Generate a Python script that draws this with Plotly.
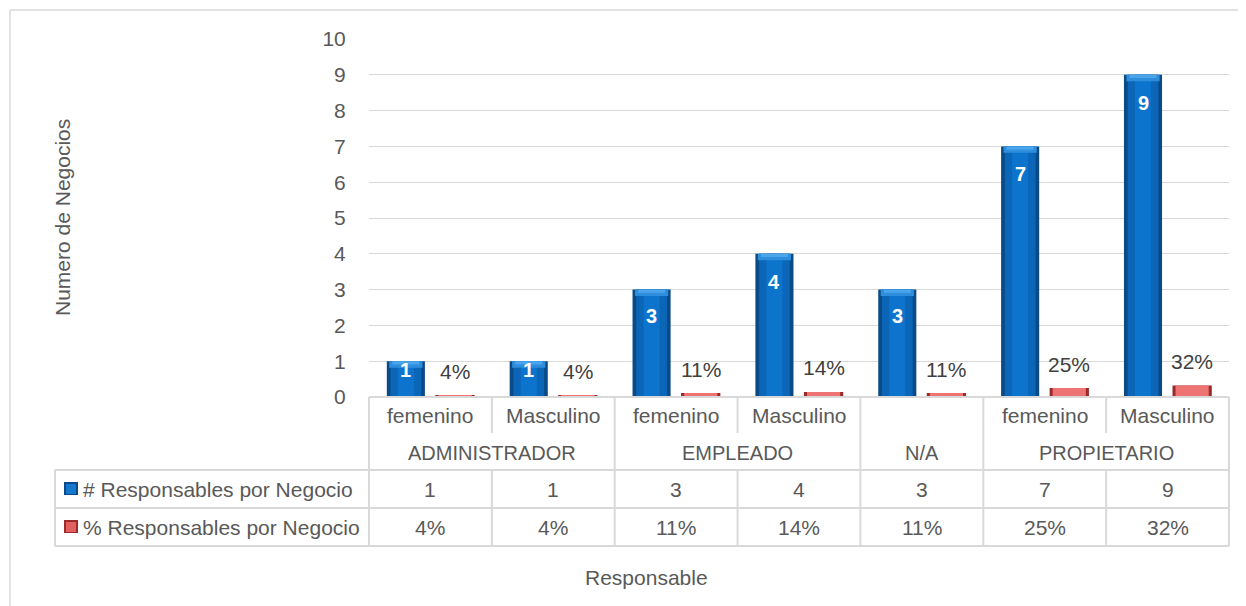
import plotly.graph_objects as go

# ---- data ----
subcategorias = ["femenino", "Masculino", "femenino", "Masculino", "", "femenino", "Masculino"]
grupos = ["ADMINISTRADOR", "EMPLEADO", "N/A", "PROPIETARIO"]
grupo_span = [2, 2, 1, 2]  # number of sub-categories in each group
num_responsables = [1, 1, 3, 4, 3, 7, 9]
pct_responsables = [0.04, 0.04, 0.11, 0.14, 0.11, 0.25, 0.32]
serie_nombres = ["# Responsables por Negocio", "% Responsables por Negocio"]
y_ticks = list(range(0, 11))

# page offset (browser body margin)
OFF = 8
W, H = 1246, 606
L, R, T, B = 369, 17, 39, 209
PW, PH = W - L - R, H - T - B
N = len(num_responsables)

FONT = "Liberation Sans"
TXT = "#595959"
GRID = "#d9d9d9"
FS = 21


def px_x(X):
    return (X - L) / PW


def px_y(Y):
    return (H - B - Y) / PH


xi = list(range(N))
xb = [i - 0.2 for i in xi]
xr = [i + 0.2 for i in xi]

fig = go.Figure()

# blue bars: layered to mimic the cylindrical shading
for w, col in [(0.31, "#0A4A86"), (0.25, "#0B66B8"), (0.13, "#0C74CC")]:
    fig.add_trace(go.Bar(x=xb, y=num_responsables, width=w, marker=dict(color=col, line=dict(width=0)),
                         hoverinfo="skip", showlegend=False))
cap = 0.18
fig.add_trace(go.Bar(x=xb, y=[cap] * N, base=[v - cap for v in num_responsables], width=0.27,
                     marker=dict(color="#2F8EDC", line=dict(width=0)), hoverinfo="skip", showlegend=False))
fig.add_trace(go.Bar(x=xb, y=[cap / 2] * N, base=[v - cap / 2 for v in num_responsables], width=0.22,
                     marker=dict(color="#4AA5EC", line=dict(width=0)), hoverinfo="skip", showlegend=False))

# red bars
for w, col in [(0.32, "#9C2A2A"), (0.27, "#EE7474")]:
    fig.add_trace(go.Bar(x=xr, y=pct_responsables, width=w, marker=dict(color=col, line=dict(width=0)),
                         hoverinfo="skip", showlegend=False))

annotations = []
shapes = []

# blue data labels (inside end)
for x, v in zip(xb, num_responsables):
    annotations.append(dict(x=x, y=max(v - 0.78, 0.75 * v), xref="x", yref="y", text=f"<b>{v}</b>",
                            showarrow=False, font=dict(family=FONT, size=20, color="white"),
                            xanchor="center", yanchor="middle"))
# red data labels (above)
for x, v in zip(xr, pct_responsables):
    annotations.append(dict(x=x, y=v, xref="x", yref="y", text=f"{round(v * 100)}%",
                            showarrow=False, font=dict(family=FONT, size=FS, color="#404040"),
                            xanchor="center", yanchor="middle", yshift=24))

# ---- data table ----
row_sub, row_grp, row_n, row_p, row_end = 397, 433, 470, 508, 546
left_col = 55
line = dict(color=GRID, width=2)


def hline(Y, X0, X1):
    shapes.append(dict(type="line", xref="paper", yref="paper", x0=px_x(X0), x1=px_x(X1),
                       y0=px_y(Y), y1=px_y(Y), line=line, layer="above"))


def vline_p(xp, Y0, Y1):
    shapes.append(dict(type="line", xref="paper", yref="paper", x0=xp, x1=xp,
                       y0=px_y(Y0), y1=px_y(Y1), line=line, layer="above"))


hline(row_sub, L, L + PW)
hline(row_n, left_col, L + PW)
hline(row_p, left_col, L + PW)
hline(row_end, left_col, L + PW)
vline_p(px_x(left_col), row_n, row_end)
vline_p(0, row_sub, row_end)
group_edges = set()
acc = 0
for s in grupo_span:
    acc += s
    group_edges.add(acc)
for k in range(1, N + 1):
    vline_p(k / N, row_sub if k in group_edges else row_n, row_end)
    if k not in group_edges:
        vline_p(k / N, row_sub, row_grp)

cell_font = dict(family=FONT, size=FS, color=TXT)
grp_font = dict(family=FONT, size=20, color=TXT)


def cell(x, yc, text, font=cell_font, xref="x"):
    annotations.append(dict(x=x, y=px_y(yc), xref=xref, yref="paper", text=text, showarrow=False,
                            font=font, xanchor="center", yanchor="middle"))


for i, s in enumerate(subcategorias):
    if s:
        cell(i, (row_sub + row_grp) / 2, s)
acc = 0
for g, s in zip(grupos, grupo_span):
    cell(acc + (s - 1) / 2, (row_grp + row_n) / 2 + 1, g, grp_font)
    acc += s
for i in xi:
    cell(i, (row_n + row_p) / 2, str(num_responsables[i]))
    cell(i, (row_p + row_end) / 2, f"{round(pct_responsables[i] * 100)}%")

# row headers with legend keys
for name, yc, (edge, inner) in zip(serie_nombres, [(row_n + row_p) / 2, (row_p + row_end) / 2],
                                   [("#0A4A86", "#1478CF"), ("#9C2A2A", "#E06060")]):
    shapes.append(dict(type="rect", xref="paper", yref="paper", x0=px_x(64), x1=px_x(78),
                       y0=px_y(yc + 6), y1=px_y(yc - 7), fillcolor=edge, line=dict(width=0)))
    shapes.append(dict(type="rect", xref="paper", yref="paper", x0=px_x(66), x1=px_x(76),
                       y0=px_y(yc + 5), y1=px_y(yc - 5), fillcolor=inner, line=dict(width=0)))
    annotations.append(dict(x=px_x(81), y=px_y(yc), xref="paper", yref="paper", text=name,
                            showarrow=False, font=cell_font, xanchor="left", yanchor="middle"))

# axis titles
annotations.append(dict(x=px_x(62), y=px_y(218), xref="paper", yref="paper", text="Numero de Negocios",
                        textangle=-90, showarrow=False, font=cell_font, xanchor="center", yanchor="middle"))
cell(px_x(646), 577, "Responsable", xref="paper")

# outer chart border (left and top)
shapes.append(dict(type="line", xref="paper", yref="paper", x0=px_x(10), x1=px_x(W + 5),
                   y0=px_y(10), y1=px_y(10), line=dict(color=GRID, width=1.5)))
shapes.append(dict(type="line", xref="paper", yref="paper", x0=px_x(10), x1=px_x(10),
                   y0=px_y(10), y1=px_y(H + 5), line=dict(color=GRID, width=1.5)))

fig.update_layout(
    width=W - OFF, height=H - OFF, autosize=False,
    margin=dict(l=L - OFF, r=R, t=T - OFF, b=B, pad=0),
    paper_bgcolor="white", plot_bgcolor="white",
    barmode="overlay",
    xaxis=dict(range=[-0.5, N - 0.5], showticklabels=False, showgrid=False, zeroline=False,
               showline=False, fixedrange=True),
    yaxis=dict(range=[0, 10], tickvals=y_ticks, showgrid=True, gridcolor=GRID, gridwidth=1,
               zeroline=False, showline=False, ticks="outside", ticklen=18, tickcolor="rgba(0,0,0,0)",
               tickfont=dict(family=FONT, size=FS, color=TXT), fixedrange=True),
    shapes=shapes,
    annotations=annotations,
    showlegend=False,
)

fig.write_html("out.html")
